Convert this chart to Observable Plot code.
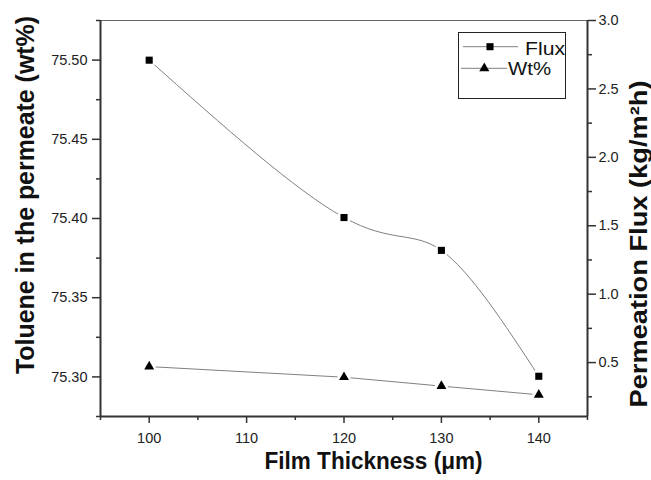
<!DOCTYPE html>
<html><head><meta charset="utf-8">
<script src="https://cdn.jsdelivr.net/npm/d3@7"></script>
<script src="https://cdn.jsdelivr.net/npm/@observablehq/plot@0.6"></script>
<style>
body{margin:0;background:#fff;}
#wrap{position:relative;width:651px;height:480px;}
#legend{position:absolute;left:0;top:0;}
</style></head><body><div id="wrap"></div>
<script>
// ---- data ----
const thickness = [100, 120, 130, 140];
const flux = [2.71, 1.56, 1.32, 0.40];          // squares, right axis (kg/m²h)
const wtPct = [75.3065, 75.2998, 75.2942, 75.2887]; // triangles, left axis (wt%)
const leftTicks = [75.30, 75.35, 75.40, 75.45, 75.50];
const leftMinor = [75.275, 75.325, 75.375, 75.425, 75.475, 75.525];
const rightTicks = [0.5, 1.0, 1.5, 2.0, 2.5, 3.0];
const rightMinor = [0.25, 0.75, 1.25, 1.75, 2.25, 2.75];
const xTicks = [100, 110, 120, 130, 140];
const xMinor = [95, 105, 115, 125, 135, 145];
const seriesNames = ["Flux", "Wt%"];

const leftDomain = [75.275, 75.525];
const rightDomain = [0.106, 3.0];
const toLeft = f => leftDomain[0] + (f - rightDomain[0]) / (rightDomain[1] - rightDomain[0]) * (leftDomain[1] - leftDomain[0]);
const fromLeft = v => rightDomain[0] + (v - leftDomain[0]) / (leftDomain[1] - leftDomain[0]) * (rightDomain[1] - rightDomain[0]);

const fluxData = thickness.map((t, i) => ({t, v: toLeft(flux[i])}));
const wtData = thickness.map((t, i) => ({t, v: wtPct[i]}));

const axisCol = "#333";
const lineCol = "#808080";

const chart = Plot.plot({
  width: 651, height: 480,
  marginLeft: 100, marginRight: 64, marginTop: 20, marginBottom: 64,
  x: {domain: [95, 145]},
  y: {domain: leftDomain},
  style: {fontFamily: "'Liberation Sans', Arial, sans-serif", fontSize: "14.5px", color: "#222", background: "#fff"},
  marks: [
    Plot.frame({stroke: "#666", strokeWidth: 1}),
    Plot.line(fluxData, {x: "t", y: "v", curve: "natural", stroke: lineCol, strokeWidth: 1}),
    Plot.line(wtData, {x: "t", y: "v", stroke: lineCol, strokeWidth: 1}),
    Plot.dot(fluxData, {x: "t", y: "v", r: 7, fill: "#fff", stroke: "none"}),
    Plot.dot(wtData, {x: "t", y: "v", r: 6.5, fill: "#fff", stroke: "none"}),
    Plot.dot(fluxData, {x: "t", y: "v", symbol: "square", r: 4, fill: "#000", stroke: "none"}),
    Plot.dot(wtData, {x: "t", y: "v", symbol: "triangle", r: 3.7, fill: "#000", stroke: "none"}),
    Plot.axisY({ticks: leftTicks, anchor: "left", tickSize: 8, tickPadding: 5, tickFormat: d => d.toFixed(2), label: null, stroke: axisCol, strokeWidth: 1.5}),
    Plot.axisY({ticks: leftMinor, anchor: "left", tickSize: 4, tickFormat: () => "", label: null, stroke: axisCol, strokeWidth: 1.5}),
    Plot.axisY({ticks: rightTicks.map(toLeft), anchor: "right", tickSize: 8, tickPadding: 3, tickFormat: v => fromLeft(v).toFixed(1), label: null, stroke: axisCol, strokeWidth: 1.5}),
    Plot.axisY({ticks: rightMinor.map(toLeft), anchor: "right", tickSize: 4, tickFormat: () => "", label: null, stroke: axisCol, strokeWidth: 1.5}),
    Plot.axisX({ticks: xTicks, anchor: "bottom", tickSize: 7, tickPadding: 9, tickFormat: d => String(d), label: null, stroke: axisCol, strokeWidth: 1.5}),
    Plot.axisX({ticks: xMinor, anchor: "bottom", tickSize: 4, tickFormat: () => "", label: null, stroke: axisCol, strokeWidth: 1.5}),
    Plot.ruleX([95], {stroke: axisCol, strokeWidth: 2}),
    Plot.ruleX([145], {stroke: axisCol, strokeWidth: 2}),
    Plot.ruleY([leftDomain[0]], {stroke: axisCol, strokeWidth: 2}),
    Plot.text(["Film Thickness (μm)"], {text: d => d, className: "title-x", frameAnchor: "bottom", textAnchor: "middle", dx: 29.5, dy: 52, fontSize: 23, fontWeight: "bold", fill: "#111"}),
    Plot.text(["Toluene in the permeate (wt%)"], {text: d => d, className: "title-yl", frameAnchor: "left", textAnchor: "middle", rotate: -90, dx: -75, dy: -23.5, fontSize: 25, fontWeight: "bold", fill: "#111"}),
    Plot.text(["Permeation Flux (kg/m²h)"], {text: d => d, className: "title-yr", frameAnchor: "right", textAnchor: "middle", rotate: -90, dx: 52, dy: 25.5, fontSize: 24, fontWeight: "bold", fill: "#111"})
  ]
});
document.getElementById("wrap").appendChild(chart);

// stretch titles to the lengths seen in the reference
[["title-x", 218], ["title-yl", 358], ["title-yr", 327]].forEach(([cls, len]) => {
  chart.querySelectorAll(`.${cls} text`).forEach(t => {
    t.setAttribute("textLength", len);
    t.setAttribute("lengthAdjust", "spacingAndGlyphs");
  });
});

// ---- legend (inside plot area, overlay) ----
const lg = d3.select("#wrap").append("svg").attr("id", "legend")
  .attr("width", 651).attr("height", 480)
  .style("font-family", "'Liberation Sans', Arial, sans-serif");
lg.append("rect").attr("x", 458.5).attr("y", 32.5).attr("width", 107).attr("height", 66)
  .attr("fill", "none").attr("stroke", "#222").attr("stroke-width", 1);
const rows = [
  {name: seriesNames[0], y: 46.7, x1: 463, x2: 518, sx: 490, sym: d3.symbolSquare, size: 50, tx: 525, ty: 55, len: 40},
  {name: seriesNames[1], y: 68.3, x1: 461, x2: 507, sx: 484.3, sym: d3.symbolTriangle, size: 44, tx: 508, ty: 74.5, len: 43}
];
rows.forEach(r => {
  lg.append("line").attr("x1", r.x1).attr("x2", r.x2).attr("y1", r.y).attr("y2", r.y)
    .attr("stroke", lineCol).attr("stroke-width", 1);
  lg.append("path").attr("d", d3.symbol(r.sym, r.size)()).attr("transform", `translate(${r.sx},${r.y})`).attr("fill", "#000");
  lg.append("text").attr("x", r.tx).attr("y", r.ty).attr("font-size", 19)
    .attr("textLength", r.len).attr("lengthAdjust", "spacingAndGlyphs")
    .attr("fill", "#111").text(r.name);
});
</script>
</body></html>
